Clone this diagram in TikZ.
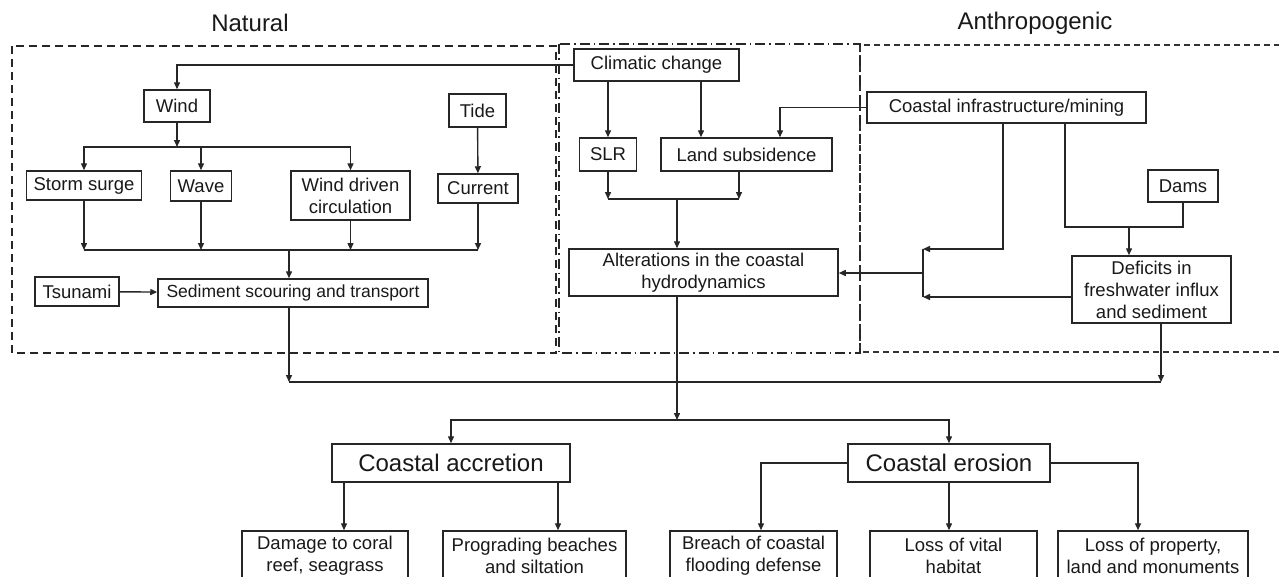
\documentclass[tikz,border=0pt]{standalone}
\usepackage{fontspec}
\setmainfont{Liberation Sans}
\usetikzlibrary{arrows.meta}

\begin{document}
\begin{tikzpicture}[x=1pt,y=1pt,yscale=-1,
        box/.style={draw=black!85,line width=1.5pt,rectangle,inner sep=2pt,align=center,fill=white,text=black!90,font=\fontsize{18.5}{22}\selectfont},
        bigbox/.style={box,font=\fontsize{24}{28}\selectfont},
        arr/.style={draw=black!85,line width=1.4pt,-{Triangle[length=7pt,width=6pt]}},
        ln/.style={draw=black!85,line width=1.4pt},
        title/.style={text=black!90,font=\fontsize{24}{28}\selectfont},
        natframe/.style={draw=black!85,line width=2pt,dash pattern=on 8pt off 5pt},
        climframe/.style={draw=black!85,line width=2.6pt,dash pattern=on 10pt off 4pt on 1.5pt off 4pt},
        anthframe/.style={draw=black!80,line width=1.4pt,dash pattern=on 6pt off 4pt}]
        \useasboundingbox[fill=white] (0,0) rectangle (1279,576);
        %Frames
        \draw[natframe] (12,46) rectangle (556,353);
        \draw[anthframe] (1290,45) -- (860,45) -- (860,352) -- (1290,352);
        \draw[climframe] (559,44) rectangle (860,353);
        % Text Node
        \node[title] (tnat) at (250,23) {Natural};
        \node[title] (tant) at (1035,23) {Anthropogenic};
        %Shape: Rectangle (natural)
        \node[box,minimum width=66,minimum height=32] (wind) at (177,106) {Wind};
        \node[box,minimum width=57,minimum height=33] (tide) at (477.5,110.5) {Tide};
        \node[box,minimum width=115,minimum height=29] (storm) at (84,185.5) {Storm surge};
        \node[box,minimum width=61,minimum height=30] (wave) at (201,186) {Wave};
        \node[box,minimum width=119,minimum height=49] (wdc) at (350.5,195.5) {Wind driven\\circulation};
        \node[box,minimum width=80,minimum height=29] (current) at (478,188.5) {Current};
        \node[box,minimum width=84,minimum height=29] (tsu) at (77,291.5) {Tsunami};
        \node[box,minimum width=270,minimum height=28,font=\fontsize{17.5}{20}\selectfont] (sed) at (293,293) {Sediment scouring and transport};
        %Shape: Rectangle (climatic)
        \node[box,minimum width=165,minimum height=32] (clim) at (656.5,65) {Climatic change};
        \node[box,minimum width=57,minimum height=33] (slr) at (608,154.5) {SLR};
        \node[box,minimum width=171,minimum height=33] (land) at (746.5,154.5) {Land subsidence};
        \node[box,minimum width=269,minimum height=47] (alt) at (703.5,272.5) {Alterations in the coastal\\hydrodynamics};
        %Shape: Rectangle (anthropogenic)
        \node[box,minimum width=279,minimum height=31] (infra) at (1006.5,107.5) {Coastal infrastructure/mining};
        \node[box,minimum width=70,minimum height=32] (dams) at (1183,186) {Dams};
        \node[box,minimum width=159,minimum height=67] (def) at (1151.5,289.5) {Deficits in\\freshwater influx\\and sediment};
        %Shape: Rectangle (impacts)
        \node[bigbox,minimum width=238,minimum height=38] (accr) at (451,463) {Coastal accretion};
        \node[bigbox,minimum width=202,minimum height=38] (eros) at (949,463) {Coastal erosion};
        \node[box,minimum width=166,minimum height=50] (dmg) at (325,556) {Damage to coral\\reef, seagrass};
        \node[box,minimum width=183,minimum height=50] (prog) at (534.5,556) {Prograding beaches\\and siltation};
        \node[box,minimum width=167,minimum height=50] (brch) at (753.5,556) {Breach of coastal\\flooding defense};
        \node[box,minimum width=167,minimum height=50] (vital) at (953.5,556) {Loss of vital\\habitat};
        \node[box,minimum width=190,minimum height=50] (prop) at (1153,556) {Loss of property,\\land and monuments};
        %Junctions
        \coordinate (jw) at (177,147);
        \coordinate (jc) at (289,250);
        \coordinate (jn) at (289,382);
        \coordinate (jd) at (1161,382);
        \coordinate (ja) at (677,199);
        \coordinate (jb) at (677,420);
        \coordinate (j1) at (923,249);
        \coordinate (jl) at (923,273);
        \coordinate (j2) at (923,297);
        \coordinate (jm) at (1129,227);
        \coordinate (cl) at ([xshift=-45.5pt]land.north);
        \coordinate (ci) at ([xshift=33.5pt]land.north);
        \coordinate (ls) at ([xshift=-7.5pt]land.south);
        \coordinate (i1) at ([xshift=-3.5pt]infra.south);
        \coordinate (i2) at ([xshift=58.5pt]infra.south);
        \coordinate (a1) at ([xshift=-107pt]accr.south);
        \coordinate (a2) at ([xshift=107pt]accr.south);
        \coordinate (e1) at ([xshift=7.5pt]brch.north);
        \coordinate (e3) at ([xshift=-15pt]prop.north);
        %Straight Lines (natural)
        \draw[arr] (clim.west) -| (wind.north);
        \draw[arr] (wind) -- (jw);
        \draw[arr] (jw) -| (storm);
        \draw[arr] (jw) -| (wave);
        \draw[arr] (jw) -| (wdc);
        \draw[arr] (tide) -- (current);
        \draw[arr] (storm) -- (storm |- jc);
        \draw[arr] (wave) -- (wave |- jc);
        \draw[arr] (wdc) -- (wdc |- jc);
        \draw[arr] (current) -- (current |- jc);
        \draw[ln] (storm |- jc) -- (current |- jc);
        \draw[arr] (jc) -- (jc |- sed.north);
        \draw[arr] (tsu) -- (sed);
        \draw[arr] (jn |- sed.south) -- (jn);
        \draw[ln] (jn) -- (jd);
        %Straight Lines (climatic)
        \draw[arr] (slr |- clim.south) -- (slr);
        \draw[arr] (cl |- clim.south) -- (cl);
        \draw[arr] (infra.west) -| (ci);
        \draw[arr] (slr) -- (slr |- ja);
        \draw[arr] (ls) -- (ls |- ja);
        \draw[ln] (slr |- ja) -- (ls |- ja);
        \draw[arr] (ja) -- (ja |- alt.north);
        \draw[arr] (ja |- alt.south) -- (jb);
        %Straight Lines (anthropogenic)
        \draw[arr] (i1) |- (j1);
        \draw[arr] (j2 -| def.west) -- (j2);
        \draw[ln] (j1) -- (j2);
        \draw[arr] (jl) -- (jl -| alt.east);
        \draw[ln] (i2) |- (dams.south |- jm) -- (dams.south);
        \draw[arr] (jm) -- (jm |- def.north);
        \draw[arr] (jd |- def.south) -- (jd);
        %Straight Lines (impacts)
        \draw[arr] (jb) -| (accr);
        \draw[arr] (jb) -| (eros);
        \draw[arr] (a1) -- (a1 |- dmg.north);
        \draw[arr] (a2) -- (a2 |- prog.north);
        \draw[arr] (eros.west) -| (e1);
        \draw[arr] (eros) -- (eros |- vital.north);
        \draw[arr] (eros.east) -| (e3);
\end{tikzpicture}
\end{document}
